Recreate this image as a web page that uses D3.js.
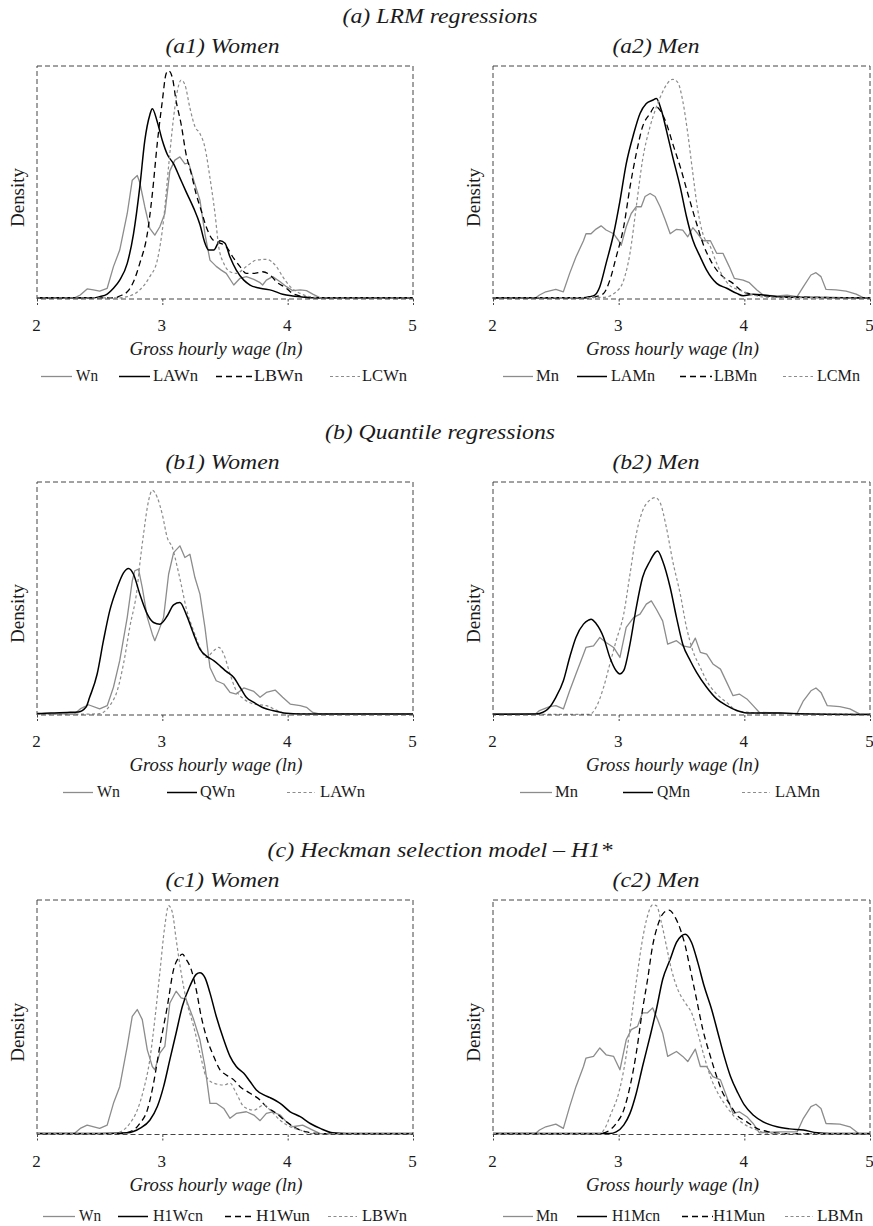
<!DOCTYPE html>
<html><head><meta charset="utf-8">
<script src="https://cdn.jsdelivr.net/npm/d3@7"></script>
<style>html,body{margin:0;padding:0;background:#fff}svg{display:block}
svg text{font-family:"Liberation Serif","Times New Roman","Nimbus Roman","Tinos","DejaVu Serif",serif}</style>
</head><body><svg id="chart" width="873" height="1226"></svg>
<script>
// ---------- DATA (x = ln gross hourly wage, y = relative density, 100 = top of frame) ----------
const xTicks = [2, 3, 4, 5];
const sectionTitles = ["(a) LRM regressions", "(b) Quantile regressions", "(c) Heckman selection model – H1*"];
const panelTitles = ["(a1) Women", "(a2) Men", "(b1) Women", "(b2) Men", "(c1) Women", "(c2) Men"];
const xLabel = "Gross hourly wage (ln)";
const yLabel = "Density";

const a1_Wn = [[2,0.5],[2.3,0.5],[2.345,1.7],[2.40,4.3],[2.45,3.9],[2.50,3.4],[2.56,4.6],[2.61,13.9],[2.66,21],[2.72,36.7],[2.76,51],[2.80,53],[2.82,50],[2.86,39.6],[2.90,30.3],[2.94,27.4],[2.98,31],[3.02,36.7],[3.06,55],[3.10,59.6],[3.14,61],[3.18,58],[3.21,58.4],[3.25,51],[3.30,42.4],[3.34,28],[3.38,16.7],[3.43,14],[3.47,12.4],[3.51,11],[3.57,6],[3.62,8.9],[3.67,9.6],[3.73,8.4],[3.78,7],[3.80,6],[3.83,8.1],[3.88,9.6],[3.94,7.4],[3.99,5.3],[4.04,3.6],[4.10,3.9],[4.15,3.6],[4.20,2.1],[4.26,0.5],[5,0.5]];
const a1_LAWn = [[2,0.5],[2.45,0.5],[2.50,1],[2.56,2.1],[2.61,4.6],[2.66,8.1],[2.72,15.3],[2.77,28],[2.82,48],[2.86,68],[2.90,79],[2.92,81.7],[2.96,76],[3.00,68],[3.04,62],[3.09,58],[3.14,52],[3.19,46],[3.25,39],[3.30,32],[3.34,24],[3.37,21],[3.41,21],[3.46,25],[3.50,23.9],[3.54,18],[3.59,12.4],[3.65,8.1],[3.70,6],[3.78,4.6],[3.88,3.6],[3.96,2],[4.04,1.3],[4.10,1],[4.2,0.5],[5,0.5]];
const a1_LBWn = [[2,0.5],[2.62,0.5],[2.66,1.3],[2.72,3.1],[2.77,7.4],[2.82,15.3],[2.88,28],[2.92,45],[2.96,67],[3.00,85],[3.03,96.7],[3.05,98],[3.08,95],[3.11,85],[3.15,75],[3.19,62],[3.23,54],[3.27,45],[3.31,38],[3.35,31],[3.41,25],[3.46,24],[3.51,22.4],[3.57,17.4],[3.62,13.9],[3.67,11],[3.73,11],[3.80,11.7],[3.86,10.3],[3.91,7.4],[3.99,4.6],[4.04,2.4],[4.10,1.3],[4.2,0.5],[5,0.5]];
const a1_LCWn = [[2,0.5],[2.65,0.5],[2.72,1],[2.82,3.9],[2.90,9.6],[2.96,16.7],[3.01,34],[3.05,57],[3.09,78],[3.13,91.7],[3.15,94],[3.18,92],[3.22,82],[3.26,74],[3.30,71],[3.34,65],[3.38,52],[3.42,36.7],[3.45,22.4],[3.49,15.3],[3.54,11.7],[3.59,11],[3.67,13.9],[3.75,16.7],[3.83,17],[3.91,13.9],[3.96,9.6],[4.02,5.3],[4.10,2.4],[4.18,1],[4.3,0.5],[5,0.5]];

const a2_Mn = [[2,0.5],[2.34,0.5],[2.37,1.7],[2.42,3.1],[2.50,4.1],[2.56,3.1],[2.61,11],[2.66,18],[2.72,25],[2.74,28],[2.78,28],[2.82,30],[2.86,31.4],[2.90,29.6],[2.96,28],[3.00,25],[3.02,23],[3.06,31],[3.10,36.7],[3.14,39.6],[3.18,39.6],[3.21,44],[3.25,45.3],[3.29,44],[3.33,39.6],[3.37,34],[3.41,28],[3.46,29.9],[3.51,29.6],[3.55,26.7],[3.59,30.6],[3.63,28],[3.67,25],[3.73,25],[3.78,19.6],[3.83,19.6],[3.88,13.9],[3.92,8.9],[3.99,8.1],[4.04,7],[4.10,3.9],[4.15,1.7],[4.26,1.3],[4.34,1.7],[4.42,1],[4.47,5.3],[4.53,10.3],[4.57,11.3],[4.61,9.6],[4.65,4.1],[4.73,3.9],[4.81,3.4],[4.89,2.1],[4.95,0.5],[5,0.5]];
const a2_LAMn = [[2,0.5],[2.72,0.5],[2.77,1],[2.81,1.7],[2.85,5.3],[2.90,15.3],[2.96,28],[3.01,42],[3.06,58],[3.12,71],[3.17,79.6],[3.22,83.9],[3.27,85.3],[3.30,86],[3.34,81],[3.38,72.4],[3.43,61],[3.49,48],[3.54,35.3],[3.59,25.3],[3.65,18],[3.70,12.4],[3.78,6.7],[3.86,4.6],[3.94,2.4],[3.99,1.4],[4.07,2],[4.15,1.7],[4.26,1],[4.42,0.7],[5,0.5]];
const a2_LBMn = [[2,0.5],[2.78,0.5],[2.82,1],[2.88,2.4],[2.93,8.1],[2.98,18],[3.04,31],[3.09,48],[3.14,62.4],[3.19,73.9],[3.25,79.6],[3.29,82.7],[3.33,81],[3.38,75.3],[3.43,66.7],[3.49,56.7],[3.55,45.3],[3.62,32.4],[3.67,23.9],[3.73,16.7],[3.78,12.4],[3.83,9.6],[3.91,6.7],[3.99,3.1],[4.10,1.7],[4.26,1],[5,0.5]];
const a2_LCMn = [[2,0.5],[2.88,0.7],[2.98,3.1],[3.04,8.1],[3.09,19.6],[3.14,39.6],[3.19,59.6],[3.25,74],[3.30,82.4],[3.35,88.9],[3.39,92.7],[3.43,94.3],[3.47,93],[3.51,85],[3.55,71],[3.59,54],[3.63,38],[3.67,28],[3.73,22.4],[3.78,15.3],[3.83,9.6],[3.88,6],[3.96,3.9],[4.07,1.7],[4.20,0.7],[5,0.5]];

const b1_Wn = [[2,0.5],[2.3,0.5],[2.345,2.6],[2.41,4.4],[2.50,2.6],[2.56,4],[2.61,11.9],[2.66,23.3],[2.72,41.9],[2.76,57.6],[2.78,61.9],[2.81,62.6],[2.84,54.7],[2.88,41.9],[2.92,34.7],[2.94,31.9],[2.97,36],[3.01,41.9],[3.05,60.4],[3.09,69.7],[3.14,72.6],[3.18,67.6],[3.22,69],[3.26,59],[3.30,51.9],[3.34,37.6],[3.38,20.4],[3.43,14.7],[3.49,13.3],[3.54,9.7],[3.59,9],[3.65,11.6],[3.73,10.1],[3.78,7.6],[3.83,9.7],[3.90,10.7],[3.96,7.6],[4.02,4.7],[4.10,4],[4.15,3.3],[4.20,1.1],[4.26,0.4],[5,0.4]];
const b1_QWn = [[2,0.6],[2.11,0.9],[2.24,1.1],[2.33,1.3],[2.39,3.3],[2.42,7.6],[2.48,17.6],[2.53,31.9],[2.58,44.7],[2.64,54.7],[2.69,61],[2.73,62.9],[2.77,60.4],[2.82,51.9],[2.88,43.3],[2.93,39.7],[2.98,39],[3.04,42.6],[3.09,47.3],[3.14,48.3],[3.19,43.3],[3.25,34.7],[3.30,28.3],[3.35,25.4],[3.41,23.3],[3.46,21.1],[3.51,18.7],[3.57,16.1],[3.62,11.9],[3.67,7.6],[3.73,5.4],[3.81,3],[3.88,1.9],[3.99,0.7],[4.10,0.4],[5,0.4]];
const b1_LAWn = [[2,0.4],[2.42,0.4],[2.50,0.6],[2.58,4],[2.64,10.4],[2.69,21.9],[2.74,37.6],[2.80,54.7],[2.82,64.7],[2.85,77.6],[2.89,91.9],[2.92,96.4],[2.96,93.3],[3.00,86],[3.04,76],[3.08,71.9],[3.12,63.3],[3.15,56.1],[3.19,46],[3.25,36],[3.30,29],[3.35,24.7],[3.41,27.6],[3.45,29],[3.49,26.1],[3.54,17.6],[3.59,10.4],[3.65,6.9],[3.73,4.7],[3.83,4],[3.91,2.1],[3.99,0.6],[5,0.4]];

const b2_Mn = [[2,0.5],[2.34,0.5],[2.37,1.9],[2.45,3.6],[2.50,4],[2.56,2.6],[2.61,10.4],[2.66,17.6],[2.72,26.1],[2.74,29],[2.80,29.7],[2.85,33.3],[2.90,31.1],[2.96,29],[3.01,24.7],[3.06,37.6],[3.12,41.9],[3.17,43.3],[3.22,47.6],[3.26,49],[3.30,45.4],[3.35,40.4],[3.39,30.4],[3.46,31.9],[3.51,29.7],[3.57,29],[3.61,33],[3.65,26.9],[3.70,26.1],[3.75,21.9],[3.81,19.7],[3.86,14],[3.91,8.3],[3.96,9],[4.02,6.9],[4.07,4],[4.12,1.1],[4.26,0.9],[4.42,0.7],[4.47,6.1],[4.53,10.4],[4.57,11.6],[4.61,9.7],[4.66,4],[4.76,3.6],[4.84,2.6],[4.92,0.4],[5,0.4]];
const b2_QMn = [[2,0.3],[2.34,0.4],[2.37,0.6],[2.45,3.3],[2.50,7.6],[2.56,14.7],[2.61,24.7],[2.66,33.3],[2.72,39],[2.76,40.7],[2.78,41.1],[2.82,39.3],[2.88,33.3],[2.93,24.7],[2.98,19],[3.01,17.6],[3.04,19],[3.09,30.4],[3.14,46.1],[3.19,59],[3.25,66.1],[3.29,69.7],[3.31,70.4],[3.35,66.1],[3.41,54.7],[3.46,41.9],[3.51,30.4],[3.57,23.3],[3.62,18.3],[3.70,11.9],[3.78,6.9],[3.86,4],[3.94,1.9],[4.02,0.9],[4.15,0.9],[4.29,0.9],[4.42,0.5],[5,0.2]];
const b2_LAMn = [[2,0.3],[2.77,0.3],[2.82,3.3],[2.88,11.9],[2.93,21.9],[2.98,31.9],[3.04,43.3],[3.09,60.4],[3.14,77.6],[3.19,87.6],[3.25,92.3],[3.29,93.3],[3.33,91.1],[3.38,80.4],[3.43,66.1],[3.49,51.9],[3.54,37.6],[3.59,27.6],[3.65,20.4],[3.70,14.7],[3.78,9],[3.86,5.4],[3.94,1.9],[4.04,1.1],[4.15,0.7],[5,0.3]];

const c1_Wn = [[2,0.5],[2.3,0.5],[2.345,2.6],[2.40,4],[2.50,2.6],[2.56,4],[2.61,13.3],[2.66,20.4],[2.72,37.6],[2.76,50.4],[2.80,53.3],[2.84,49],[2.88,36.1],[2.92,29],[2.94,27.6],[2.98,34.7],[3.02,37.6],[3.06,56.1],[3.11,61.1],[3.15,58.3],[3.19,57.6],[3.25,49],[3.30,40.4],[3.34,29],[3.38,13.3],[3.43,13.3],[3.49,11.1],[3.54,6.9],[3.59,9],[3.67,9.7],[3.73,8.3],[3.78,5.9],[3.83,9],[3.88,9.7],[3.94,8.3],[3.99,5.4],[4.04,3.3],[4.12,4],[4.20,1.9],[4.26,0.4],[5,0.4]];
const c1_H1Wcn = [[2,0.4],[2.50,0.4],[2.72,0.7],[2.82,2.6],[2.90,6.1],[2.96,11.9],[3.01,20.4],[3.06,31.9],[3.11,43.3],[3.16,54.7],[3.22,63.3],[3.27,68.3],[3.30,69],[3.34,66.9],[3.38,60.4],[3.43,50.4],[3.49,40.4],[3.54,33.3],[3.59,29],[3.65,26.1],[3.70,22.6],[3.75,19],[3.81,16.9],[3.86,15.7],[3.94,13.3],[4.02,9.7],[4.10,7.6],[4.18,4.7],[4.26,2.6],[4.36,0.7],[4.47,0.4],[5,0.4]];
const c1_H1Wun = [[2,0.4],[2.66,0.4],[2.77,1.9],[2.82,4.7],[2.88,10.4],[2.93,21.9],[2.98,37.6],[3.04,54.7],[3.09,70.4],[3.13,75.4],[3.16,76.9],[3.19,74.7],[3.23,70.4],[3.27,61.9],[3.31,50.4],[3.35,41.9],[3.41,33.3],[3.46,27.6],[3.51,25.4],[3.57,23.3],[3.62,20.4],[3.70,17.6],[3.78,14.7],[3.83,11.9],[3.91,9],[3.99,5.4],[4.07,2.6],[4.15,1.1],[4.26,0.4],[5,0.4]];
const c1_LBWn = [[2,0.4],[2.61,0.4],[2.69,1.9],[2.74,4.7],[2.80,10.4],[2.85,19],[2.90,31.9],[2.94,49],[2.98,69],[3.02,89],[3.05,97.6],[3.08,94.7],[3.11,83.3],[3.15,69],[3.19,57.6],[3.25,46.1],[3.30,34.7],[3.35,24.7],[3.41,21.9],[3.49,21.1],[3.54,21.9],[3.59,17.6],[3.65,11.9],[3.73,10.4],[3.81,12.6],[3.86,10.4],[3.94,6.1],[4.02,3.3],[4.10,1.9],[4.18,0.4],[5,0.4]];

const c2_Mn = [[2,0.5],[2.34,0.5],[2.37,1.9],[2.42,3.3],[2.50,4.4],[2.56,2.6],[2.61,11.9],[2.66,20.4],[2.72,29],[2.74,32.6],[2.80,33.3],[2.85,36.9],[2.90,34],[2.96,33.3],[3.01,27.6],[3.06,40.4],[3.10,44.7],[3.15,46.1],[3.19,51.9],[3.23,51.9],[3.27,54],[3.31,49],[3.35,43.3],[3.39,33.3],[3.46,35.4],[3.51,33.3],[3.55,31.1],[3.61,36.4],[3.65,29],[3.70,29],[3.75,24.7],[3.81,23.3],[3.86,16.1],[3.91,9],[3.96,9.7],[4.02,7.6],[4.07,4.7],[4.12,0.7],[4.26,1.1],[4.42,1.1],[4.47,6.9],[4.53,11.9],[4.57,12.9],[4.61,11.1],[4.65,4.7],[4.76,4.4],[4.84,3.3],[4.91,0.4],[5,0.4]];
const c2_H1Mcn = [[2,0.4],[2.93,0.4],[2.98,1.1],[3.04,4],[3.09,9],[3.14,17.6],[3.19,29],[3.25,41.9],[3.30,53.3],[3.35,66.1],[3.41,74.7],[3.46,81.9],[3.50,84.7],[3.53,85.4],[3.58,81.9],[3.63,73.3],[3.68,63.3],[3.74,53.3],[3.79,43.3],[3.84,33.3],[3.89,24.7],[3.95,17.6],[4.00,12.6],[4.07,8.3],[4.15,5.4],[4.26,3.3],[4.36,2.4],[4.47,1.9],[4.58,0.7],[4.68,0.4],[5,0.4]];
const c2_H1Mun = [[2,0.4],[2.85,0.4],[2.93,1.9],[2.98,4.7],[3.04,10.4],[3.09,20.4],[3.14,34.7],[3.19,53.3],[3.23,66.1],[3.27,80.4],[3.31,89],[3.35,94],[3.40,95.7],[3.45,92.6],[3.49,87.6],[3.53,80.4],[3.57,70.4],[3.62,57.6],[3.67,44.7],[3.73,33.3],[3.78,24.7],[3.83,17.6],[3.88,13.3],[3.94,8.3],[4.02,5.4],[4.10,2.6],[4.20,1.1],[4.31,0.4],[5,0.4]];
const c2_LBMn = [[2,0.4],[2.85,0.4],[2.89,2.6],[2.94,9],[3.00,17.6],[3.05,30.4],[3.10,49],[3.15,69],[3.19,83.3],[3.23,93.3],[3.27,97.9],[3.30,97.6],[3.34,90.4],[3.38,80.4],[3.42,70.4],[3.47,61.9],[3.53,56.1],[3.58,51.9],[3.63,43.3],[3.68,33.3],[3.74,23.3],[3.79,17.6],[3.84,13.3],[3.91,8.3],[3.99,4.7],[4.10,1.9],[4.20,0.4],[5,0.4]];

// ---------- LAYOUT ----------
const cols = [{x0: 37, x1: 413, subCx: 222.5, denX: 23.5}, {x0: 493, x1: 870, subCx: 656, denX: 479.5}];
const rows = [{top: 66, bot: 299, legOff: 82}, {top: 482, bot: 715, legOff: 82}, {top: 900, bot: 1134.5, legOff: 86.5}];
const sectionLen = [195, 230, 345];
const styles = {
  obs:   {stroke: "#8c8c8c", width: 1.3, dash: null, curve: d3.curveLinear},
  solid: {stroke: "#000",    width: 1.5, dash: null, curve: d3.curveMonotoneX},
  dash:  {stroke: "#000",    width: 1.3, dash: "6,4", curve: d3.curveMonotoneX},
  dot:   {stroke: "#8c8c8c", width: 1.2, dash: "3,2.5", curve: d3.curveMonotoneX}
};
// legend geometry: [lineStart, lineEnd, textStart, textLength]
const panels = [
  {row: 0, col: 0, series: [[a1_Wn,"obs","Wn",[41,72,76,22]],[a1_LAWn,"solid","LAWn",[119,150,153,45]],[a1_LBWn,"dash","LBWn",[216,253,254,49]],[a1_LCWn,"dot","LCWn",[330,360,362,45]]]},
  {row: 0, col: 1, series: [[a2_Mn,"obs","Mn",[503,533,536,23]],[a2_LAMn,"solid","LAMn",[577,607,611,44]],[a2_LBMn,"dash","LBMn",[680,712,714,43]],[a2_LCMn,"dot","LCMn",[783,813,817,43]]]},
  {row: 1, col: 0, series: [[b1_Wn,"obs","Wn",[63,93,97,23]],[b1_LAWn,"dot","LAWn",[287,315,320,45]],[b1_QWn,"solid","QWn",[167,197,200,35]]]},
  {row: 1, col: 1, series: [[b2_Mn,"obs","Mn",[520,552,555,23]],[b2_LAMn,"dot","LAMn",[742,770,775,45]],[b2_QMn,"solid","QMn",[623,653,657,33]]]},
  {row: 2, col: 0, series: [[c1_Wn,"obs","Wn",[43,75,79,22]],[c1_H1Wcn,"solid","H1Wcn",[118,148,153,50]],[c1_H1Wun,"dash","H1Wun",[225,255,256,54]],[c1_LBWn,"dot","LBWn",[328,357,362,45]]]},
  {row: 2, col: 1, series: [[c2_Mn,"obs","Mn",[503,533,536,22]],[c2_H1Mcn,"solid","H1Mcn",[577,607,612,48]],[c2_H1Mun,"dash","H1Mun",[682,713,713,52]],[c2_LBMn,"dot","LBMn",[785,813,817,46]]]}
];

const svg = d3.select("#chart");
svg.append("rect").attr("width", 873).attr("height", 1226).attr("fill", "#fff");

function txt(g, s, x, y, size, italic, len, anchor) {
  const t = g.append("text").attr("x", x).attr("y", y).text(s)
    .style("font-size", size + "px").attr("fill", "#1a1a1a")
    .attr("text-anchor", anchor || "middle");
  if (italic) t.style("font-style", "italic");
  if (len) t.attr("textLength", len).attr("lengthAdjust", "spacingAndGlyphs");
  return t;
}

// section titles
rows.forEach((r, i) => txt(svg, sectionTitles[i], 440, r.top - 43.3, 21, true, sectionLen[i]));

panels.forEach((p, pi) => {
  const c = cols[p.col], r = rows[p.row];
  const g = svg.append("g");
  const x = d3.scaleLinear().domain([2, 5]).range([c.x0, c.x1]);
  const y = d3.scaleLinear().domain([0, 100]).range([r.bot, r.top]);

  p.series.forEach(([data, st]) => {
    const s = styles[st];
    const line = d3.line().x(d => x(d[0])).y(d => y(d[1])).curve(s.curve);
    g.append("path").datum(data).attr("d", line).attr("fill", "none")
      .attr("stroke", s.stroke).attr("stroke-width", s.width)
      .attr("stroke-dasharray", s.dash).attr("stroke-linejoin", "round");
  });

  g.append("rect").attr("x", c.x0).attr("y", r.top).attr("width", c.x1 - c.x0).attr("height", r.bot - r.top)
    .attr("fill", "none").attr("stroke", "#444").attr("stroke-width", 1).attr("stroke-dasharray", "5,3");

  const ax = g.append("g").attr("transform", `translate(0,${r.bot})`)
    .call(d3.axisBottom(x).tickValues(xTicks).tickSize(6).tickFormat(d3.format("d")));
  ax.attr("font-family", null).attr("font-size", null);
  ax.select(".domain").remove();
  ax.selectAll(".tick line").attr("stroke", "#444").attr("stroke-dasharray", "2.5,1.5");
  ax.selectAll(".tick text").style("font-size", "17px").attr("fill", "#1a1a1a")
    .attr("y", 32).attr("dy", 0).attr("dx", -1);

  txt(g, panelTitles[pi], c.subCx, r.top - 12.7, 22, true, p.col === 0 ? 114 : 87);
  txt(g, xLabel, (c.x0 + c.x1) / 2 - 9, r.bot + 56, 18.5, true, 173);
  txt(g, yLabel, 0, 0, 18.5, false, 59)
    .attr("transform", `translate(${c.denX},${(r.top + r.bot) / 2 + 15}) rotate(-90)`);

  const ly = r.bot + r.legOff;
  p.series.forEach(([data, st, name, geo]) => {
    const s = styles[st];
    g.append("line").attr("x1", geo[0]).attr("x2", geo[1]).attr("y1", ly - 4.5).attr("y2", ly - 4.5)
      .attr("stroke", s.stroke).attr("stroke-width", s.width).attr("stroke-dasharray", s.dash);
    txt(g, name, geo[2], ly, 16, false, geo[3], "start");
  });
});
</script></body></html>
